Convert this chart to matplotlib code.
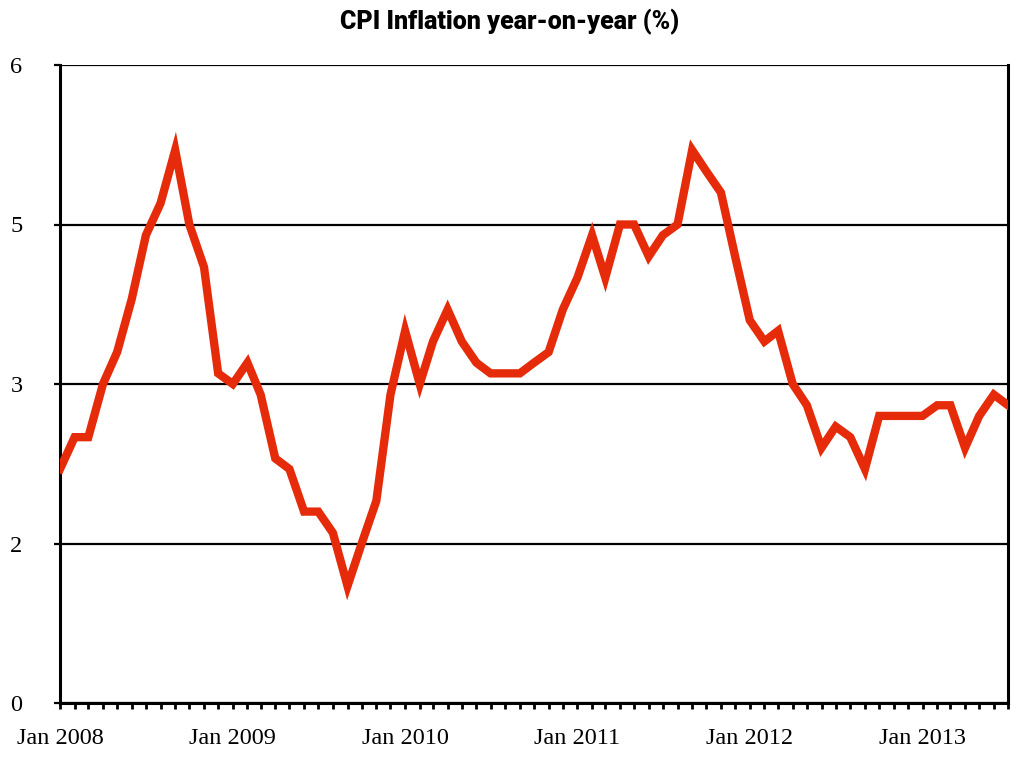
import matplotlib
matplotlib.use("Agg")
import matplotlib.pyplot as plt
import matplotlib.dates as mdates
import matplotlib.ticker as mticker
import pandas as pd

start_month = "2008-01-01"
cpi = [2.2, 2.5, 2.5, 3.0, 3.3, 3.8, 4.4, 4.7, 5.2, 4.5, 4.1, 3.1,
       3.0, 3.2, 2.9, 2.3, 2.2, 1.8, 1.8, 1.6, 1.1, 1.5, 1.9, 2.9,
       3.5, 3.0, 3.4, 3.7, 3.4, 3.2, 3.1, 3.1, 3.1, 3.2, 3.3, 3.7,
       4.0, 4.4, 4.0, 4.5, 4.5, 4.2, 4.4, 4.5, 5.2, 5.0, 4.8, 4.2,
       3.6, 3.4, 3.5, 3.0, 2.8, 2.4, 2.6, 2.5, 2.2, 2.7, 2.7, 2.7,
       2.7, 2.8, 2.8, 2.4, 2.7, 2.9, 2.8]
y_ticks = [0, 1.5, 3, 4.5, 6]
title = "CPI Inflation year-on-year (%)"

dates = pd.date_range(start_month, periods=len(cpi), freq="MS")

fig = plt.figure(figsize=(10.2, 7.72), dpi=100)
ax = fig.add_axes([60/1020, 1-703/772, (1008-60)/1020, (703-65)/772])

ax.plot(dates, cpi, color="#e62b0a", lw=6, solid_joinstyle="miter", zorder=3)

ax.set_xlim(dates[0], dates[-1])
ax.set_ylim(0, 6)
ax.set_yticks(y_ticks)
ax.yaxis.set_major_formatter(mticker.FuncFormatter(lambda v, p: f"{int(v + 0.5)}"))
ax.grid(axis="y", color="black", lw=1.6, zorder=1)

ax.xaxis.set_major_locator(mdates.YearLocator(1, month=1, day=1))
ax.xaxis.set_major_formatter(mdates.DateFormatter("Jan %Y"))
ax.xaxis.set_minor_locator(mdates.MonthLocator())

for s in ["left", "right", "bottom"]:
    ax.spines[s].set_linewidth(2.2)
ax.spines["top"].set_visible(False)

ax.tick_params(axis="x", which="both", direction="out", length=4, width=2, pad=14)
ax.tick_params(axis="y", which="both", direction="out", length=4, width=1.6, pad=23)

for lab in ax.get_xticklabels() + ax.get_yticklabels():
    lab.set_fontfamily("Liberation Serif")
    lab.set_fontsize(17.5)

fig.text(0.5, 1-22/772, title, ha="center", va="center",
         fontsize=18, fontweight="black", family="Roboto")

fig.savefig("out.png", dpi=100)
